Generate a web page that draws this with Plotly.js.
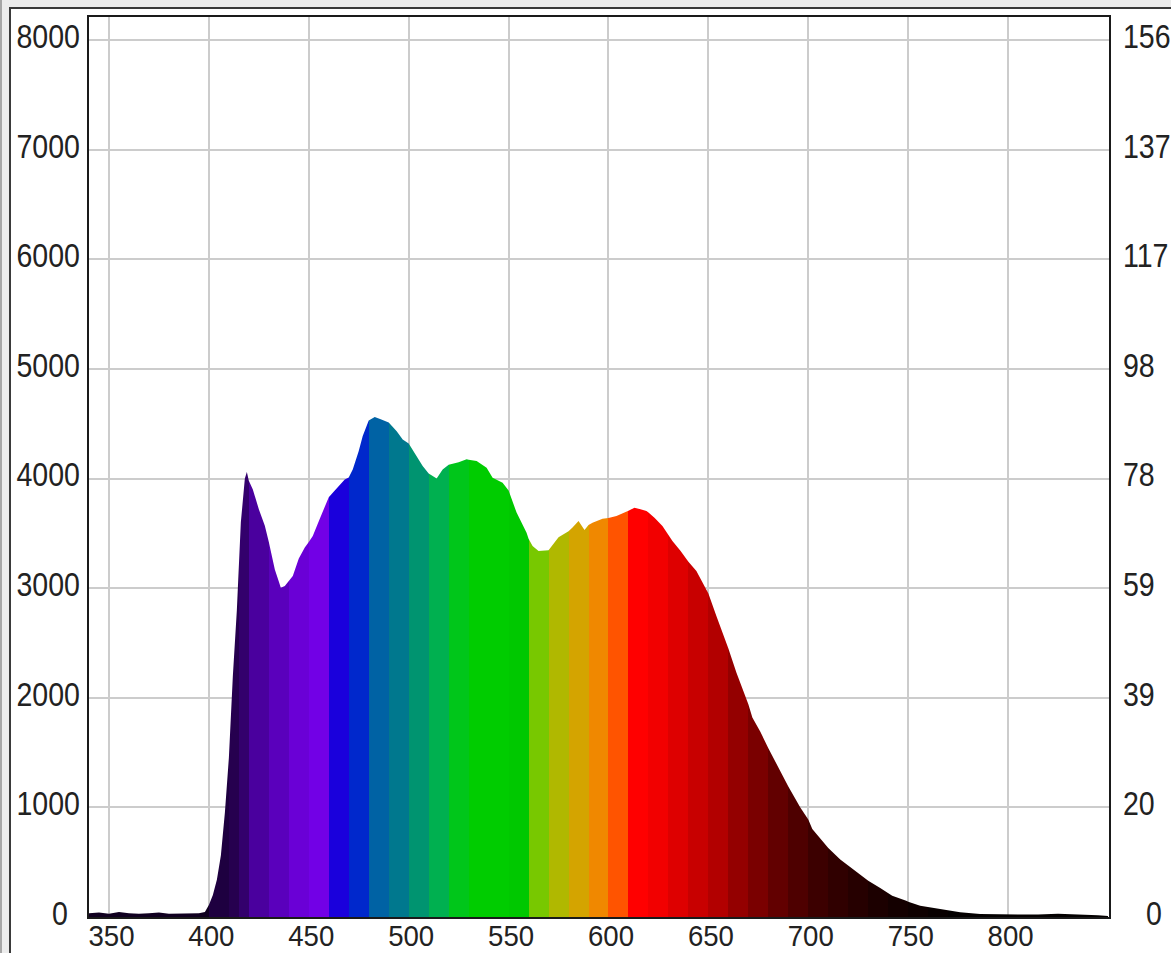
<!DOCTYPE html>
<html>
<head>
<meta charset="utf-8">
<script src="https://cdn.plot.ly/plotly-3.0.1.min.js"></script>
<style>
  html, body { margin:0; padding:0; background:#ececec; overflow:hidden; width:1171px; height:953px; }
  #edge { position:absolute; left:0; top:0; width:2px; height:953px; background:#a6a6a6; }
  #frame { position:absolute; left:9px; top:7px; width:1160px; height:944px; background:#ffffff;
           border-left:2px solid #3a3a3a; border-top:2px solid #3a3a3a; }
  #chart { width:1160px; height:944px; }
</style>
</head>
<body>
<div id="edge"></div>
<div id="frame"><div id="chart"></div></div>
<script>
const wavelength = [340,345,350,355,360,365,370,375,380,385,390,395,398,400,402,404,406,408,410,412,414,416,418,419,420,422,425,428,430,433,435,436,438,440,442,445,448,450,452,455,458,460,462,465,468,470,472,475,477,480,483,486,490,494,497,500,504,507,510,514,517,520,525,529,530,534,539,540,542,547,550,554,559,560,562,565,570,575,580,582,585,588,590,592,597,600,604,610,613,616,619,620,623,627,630,632,636,640,644,649,650,654,659,660,664,669,670,672,676,680,682,689,690,696,700,702,709,710,716,720,722,729,730,736,740,742,749,750,756,760,766,770,776,786,795,805,815,825,835,845,850];
const intensity  = [35,40,30,45,35,30,35,40,30,30,35,35,45,110,200,340,560,950,1450,2200,2800,3600,4000,4060,3980,3900,3720,3570,3420,3170,3060,3004,3020,3060,3110,3270,3370,3420,3475,3610,3750,3830,3871,3930,3990,4010,4083,4250,4388,4530,4560,4540,4510,4430,4357,4320,4205,4114,4045,4000,4083,4125,4148,4175,4170,4159,4098,4070,4008,3962,3890,3689,3506,3450,3384,3339,3345,3465,3520,3552,3612,3530,3575,3597,3634,3640,3658,3705,3734,3720,3703,3690,3643,3567,3480,3430,3340,3240,3157,2990,2950,2746,2503,2450,2230,1990,1940,1820,1690,1540,1471,1228,1190,1000,890,802,650,630,525,470,438,346,330,265,215,194,149,140,103,90,73,60,43,27,25,20,22,30,25,15,10];

// Colour bands of the spectrum fill (start wavelength of each band, nm)
const bandStart = [340,400,410,415,420,430,440,450,460,470,480,490,500,510,520,530,540,550,560,570,580,590,600,610,620,630,640,650,660,670,680,690,700,710,720,730,740,750,760,770];
const bandColor = ['#100020','#1e0040','#26004f','#33006c','#4a009e','#5a00bc','#6a00d6','#7200e6','#1a00dc','#0028cc','#0062a4','#00788e','#009470','#00b050','#00c61a','#00cc00','#00cc00','#00c800','#78c800','#b0b800','#d4a400','#f08800','#ff5400','#ff0000','#f20000','#de0000','#c80000','#b20000','#940000','#7a0000','#620000','#4e0000','#3c0000','#300000','#260000','#1c0000','#140000','#0e0000','#080000','#030000'];
const bandEnd = 850;

// Axis tick values / labels
const xTicks = [350,400,450,500,550,600,650,700,750,800];
const yTicks = [0,1000,2000,3000,4000,5000,6000,7000,8000];
const yRightLabels = ['0','20','39','59','78','98','117','137','156'];

const span = bandEnd - bandStart[0];
const cscale = [];
for (let i = 0; i < bandStart.length; i++) {
  const s = (bandStart[i] - bandStart[0]) / span;
  const e = ((i + 1 < bandStart.length ? bandStart[i + 1] : bandEnd) - bandStart[0]) / span;
  cscale.push([s, bandColor[i]]);
  cscale.push([e, bandColor[i]]);
}

const fam = '"Liberation Sans", Arial, sans-serif';
const tickFont = { family: fam, size: 34, color: '#222222' };
const xTickFont = { family: fam, size: 30, color: '#222222' };

const traces = [
  {
    type: 'scatter', mode: 'lines', x: wavelength, y: intensity,
    line: { width: 0, color: '#000000' },
    fill: 'tozeroy',
    fillgradient: { type: 'horizontal', start: bandStart[0], stop: bandEnd, colorscale: cscale },
    hoverinfo: 'x+y', showlegend: false
  },
  {
    type: 'scatter', mode: 'lines', x: wavelength, y: intensity, yaxis: 'y2',
    line: { width: 0 }, opacity: 0, hoverinfo: 'skip', showlegend: false
  }
];

const layout = {
  width: 1160, height: 944,
  margin: { l: 78, r: 62, t: 8, b: 36, pad: 0 },
  paper_bgcolor: '#ffffff', plot_bgcolor: '#ffffff',
  showlegend: false,
  xaxis: {
    range: [340, 850.5], tickvals: xTicks, ticktext: xTicks.map(String),
    showgrid: true, gridcolor: '#cccccc', gridwidth: 2,
    showline: true, mirror: true, linecolor: '#1a1a1a', linewidth: 2,
    ticks: '', zeroline: false, tickfont: xTickFont
  },
  yaxis: {
    range: [0, 8210], tickvals: yTicks, ticktext: yTicks.map(String),
    showgrid: true, gridcolor: '#cccccc', gridwidth: 2,
    showline: true, mirror: true, linecolor: '#1a1a1a', linewidth: 2,
    ticks: '', zeroline: false, tickfont: tickFont
  },
  yaxis2: {
    overlaying: 'y', side: 'right', range: [0, 8210],
    tickvals: yTicks, ticktext: yRightLabels,
    showgrid: false, showline: false, zeroline: false, ticks: '',
    tickfont: tickFont
  }
};

Plotly.newPlot('chart', traces, layout, { displayModeBar: false, staticPlot: true }).then(function (gd) {
  const fl = gd._fullLayout;
  const box = document.getElementById('chart').getBoundingClientRect();
  const yPix = v => box.top + fl._size.t + fl.yaxis.l2p(v);
  const xPix = v => box.left + fl._size.l + fl.xaxis.l2p(v);
  function narrow(t, sx) {
    const ax = parseFloat(t.getAttribute('x') || 0), ay = parseFloat(t.getAttribute('y') || 0);
    const base = t.getAttribute('transform') || '';
    t.setAttribute('transform', base + ' translate(' + ax + ',' + ay + ') scale(' + sx + ',1) translate(' + (-ax) + ',' + (-ay) + ')');
  }
  function shift(t, dx, dy) {
    t.setAttribute('transform', 'translate(' + dx + ',' + dy + ') ' + (t.getAttribute('transform') || ''));
  }
  gd.querySelectorAll('g.ytick text').forEach(function (t) {
    narrow(t, 0.84);
    const v = Number(t.textContent);
    const r = t.getBoundingClientRect();
    const right = (v === 0) ? 68 : 80;
    const cy = yPix(v) - 3.5;
    shift(t, right - r.right, cy - (r.top + r.bottom) / 2);
  });
  gd.querySelectorAll('g.y2tick text').forEach(function (t) {
    narrow(t, 0.84);
    const idx = yRightLabels.indexOf(t.textContent);
    const v = yTicks[idx];
    const r = t.getBoundingClientRect();
    const left = (t.textContent === '0') ? 1146 : 1123;
    const cy = yPix(v) - 3.5;
    shift(t, left - r.left, cy - (r.top + r.bottom) / 2);
  });
  gd.querySelectorAll('g.xtick text').forEach(function (t) {
    narrow(t, 0.92);
    const v = Number(t.textContent);
    const r = t.getBoundingClientRect();
    const cx = xPix(v) + 2.5;
    shift(t, cx - (r.left + r.right) / 2, 952.5 - r.bottom);
  });
});
</script>
</body>
</html>
